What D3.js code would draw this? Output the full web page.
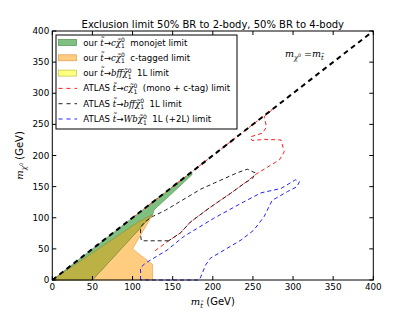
<!DOCTYPE html>
<html><head><meta charset="utf-8">
<script src="https://cdn.jsdelivr.net/npm/d3@7"></script>
<style>body{margin:0;background:#fff}</style></head>
<body><svg id="c" width="415" height="312"></svg>
<script>
// ---- data ----
const xTicks = [0,50,100,150,200,250,300,350,400];
const yTicks = [0,50,100,150,200,250,300,350,400];
const monojetRegion = [[0,0],[174,174],[174,169],[150,140],[127,113],[125,105],[50,0]];
const ctagRegion = [[0,0],[108,94],[125,105],[100,50],[125,25],[125,0]];
const bffRegion = [[0,0],[108,94],[125,105],[50,0]];
const diagonal = [[0,0],[400,400]];
const atlasMono = [[128,47],[145,63],[160,76],[172,93],[197,117],[222,139],[239,155],[255,171],[264,178],[283,193],[289,206],[285,225],[264,226],[249,224],[247,230],[262,236],[267,246],[264,262],[276,276],[100,100]];
const atlasBff = [[145,63],[111,63],[110,72],[110,85],[116,94],[125,102],[141,112],[185,146],[230,172],[243,178],[253,172],[250,164],[239,155],[222,139],[197,117],[172,93],[160,76],[145,63]];
const atlasWb = [[110,0],[110,20],[116,27],[143,48],[164,70],[201,99],[235,123],[260,140],[285,147],[303,161],[308,158],[305,150],[293,142],[274,128],[264,102],[251,80],[235,64],[214,48],[197,35],[191,24],[185,5],[183,0],[110,0]];

const svg = d3.select("#c");
const L=52.3, R=373.3, T=31, B=280;
const x = d3.scaleLinear([0,400],[L,R]);
const y = d3.scaleLinear([0,400],[B,T]);
const line = d3.line().x(d=>x(d[0])).y(d=>y(d[1]));

const plot = svg.append("g");
plot.append("path").attr("d", line(ctagRegion)+"Z").attr("fill","#ffcc80").attr("stroke","#d9a050").attr("stroke-width",0.6);
plot.append("path").attr("d", line(monojetRegion)+"Z").attr("fill","#7fbf7f").attr("stroke","#4f8f4f").attr("stroke-width",0.6);
plot.append("path").attr("d", line(bffRegion)+"Z").attr("fill","#bbb145").attr("stroke","#8a8030").attr("stroke-width",0.5);

function dashed(data, color, w, dash){
  plot.append("path").attr("d", line(data)).attr("fill","none").attr("stroke",color)
    .attr("stroke-width",w).attr("stroke-dasharray",dash);
}
dashed(atlasWb, "#2222ff", 1, "4,3");
dashed(atlasMono, "#ff2020", 1, "4,3");
dashed(atlasBff, "#222", 1, "4,3");
dashed(diagonal, "#000", 2, "5,4");

// axes
const ax = svg.append("g");
ax.append("rect").attr("x",L).attr("y",T).attr("width",R-L).attr("height",B-T).attr("fill","none").attr("stroke","#000").attr("stroke-width",1);
const FONT = "DejaVu Sans, sans-serif";
xTicks.forEach(v=>{
  ax.append("line").attr("x1",x(v)).attr("x2",x(v)).attr("y1",B).attr("y2",B-4).attr("stroke","#000");
  ax.append("line").attr("x1",x(v)).attr("x2",x(v)).attr("y1",T).attr("y2",T+4).attr("stroke","#000");
  ax.append("text").attr("x",x(v)).attr("y",B+10).attr("text-anchor","middle").attr("font-family",FONT).attr("font-size",8.8).text(v);
});
yTicks.forEach(v=>{
  ax.append("line").attr("x1",L).attr("x2",L+4).attr("y1",y(v)).attr("y2",y(v)).attr("stroke","#000");
  ax.append("line").attr("x1",R).attr("x2",R-4).attr("y1",y(v)).attr("y2",y(v)).attr("stroke","#000");
  ax.append("text").attr("x",L-3).attr("y",y(v)+3).attr("text-anchor","end").attr("font-family",FONT).attr("font-size",8.8).text(v);
});

// rich text helper
function rich(sel, parts, size){
  parts.forEach(p=>{
    const ts = sel.append("tspan").text(p.t);
    if(p.m){ ts.attr("font-family","DejaVu Serif, serif").attr("font-style","italic"); }
    if(p.sz) ts.attr("font-size", p.sz*size);
    if(p.dx!==undefined) ts.attr("dx",p.dx);
    if(p.dy!==undefined) ts.attr("dy",p.dy);
  });
  return sel;
}
function chiParts(){ // chi tilde with sup 0 sub 1
  return [{t:"χ̃",m:1},{t:"0",sz:0.7,dy:-3.5,m:0},{t:"1",sz:0.7,dx:-3.8,dy:6,m:0},{t:"\u00a0",dy:-2.5}];
}
svg.append("text").attr("x",(L+R)/2).attr("y",28).attr("text-anchor","middle")
  .attr("font-family",FONT).attr("font-size",10).text("Exclusion limit 50% BR to 2-body, 50% BR to 4-body");

// axis labels
rich(svg.append("text").attr("x",(L+R)/2).attr("y",305).attr("text-anchor","middle").attr("font-family",FONT).attr("font-size",10),
  [{t:"m",m:1},{t:"t̃",m:1,sz:0.7,dy:2.5},{t:" (GeV)",dy:-2.5}],10);
rich(svg.append("text").attr("transform","translate(23,"+((T+B)/2)+") rotate(-90)").attr("text-anchor","middle").attr("font-family",FONT).attr("font-size",10),
  [{t:"m",m:1},{t:"χ",m:1,sz:0.7,dy:2.5},{t:"0",sz:0.5,dy:-3},{t:" (GeV)",dy:0.5}],10);

// annotation
rich(svg.append("text").attr("x",285).attr("y",57).attr("font-family",FONT).attr("font-size",9.5),
  [{t:"m",m:1},{t:"χ",m:1,sz:0.7,dy:2.5},{t:"0",sz:0.5,dy:-3},{t:" =",dy:0.5},{t:"m",m:1},{t:"t̃",m:1,sz:0.7,dy:2.5}],9.5);

// legend
const lg = svg.append("g");
lg.append("rect").attr("x",56).attr("y",35).attr("width",181).attr("height",94).attr("fill","#fff").attr("stroke","#000").attr("stroke-width",1);
const legendItems = [
  {kind:"patch", fill:"#7fbf7f", stroke:"#4f8f4f", pre:"our ", proc:"c", post:"monojet limit"},
  {kind:"patch", fill:"#ffcc80", stroke:"#d9a050", pre:"our ", proc:"c", post:"c-tagged limit"},
  {kind:"patch", fill:"#ffff80", stroke:"#c0c040", pre:"our ", proc:"bff", post:"1L limit"},
  {kind:"line", color:"#ff2020", pre:"ATLAS ", proc:"c", post:"(mono + c-tag) limit"},
  {kind:"line", color:"#222", pre:"ATLAS ", proc:"bff", post:"1L limit"},
  {kind:"line", color:"#2222ff", pre:"ATLAS ", proc:"Wb", post:"1L (+2L) limit"}
];
legendItems.forEach((it,i)=>{
  const cy = 42.5 + i*15.3;
  if(it.kind==="patch"){
    lg.append("rect").attr("x",58.5).attr("y",cy-3).attr("width",18).attr("height",6).attr("fill",it.fill).attr("stroke",it.stroke).attr("stroke-width",0.7);
  } else {
    lg.append("line").attr("x1",58.5).attr("x2",77).attr("y1",cy).attr("y2",cy).attr("stroke",it.color).attr("stroke-width",1).attr("stroke-dasharray","4,4");
  }
  const t = lg.append("text").attr("x",83.3).attr("y",cy+3).attr("font-family",FONT).attr("font-size",8.6);
  rich(t, [{t:it.pre},{t:"t̃",m:1},{t:"→"},{t:it.proc,m:1}].concat(chiParts()).concat([{t:" "+it.post}]),8.6);
});
</script></body></html>
